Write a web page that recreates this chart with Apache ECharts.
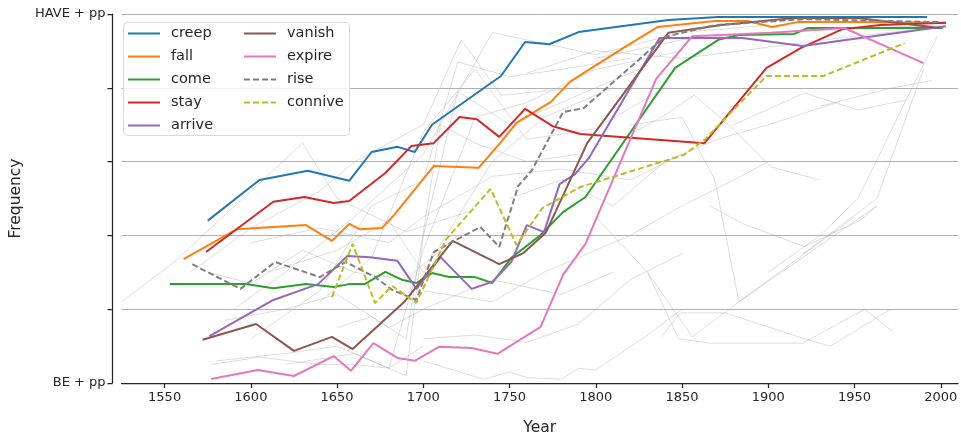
<!DOCTYPE html>
<html>
<head>
<meta charset="utf-8">
<script src="https://cdn.jsdelivr.net/npm/echarts@6/dist/echarts.min.js"></script>
<style>
html, body { margin: 0; padding: 0; background: #fff; }
#chart { width: 961px; height: 441px; }
</style>
</head>
<body>
<div id="chart"></div>
<script>
// year / share of HAVE + pp
var creep = [[1575,0.44],[1605,0.55],[1633,0.575],[1657,0.548],[1670,0.626],[1685,0.64],[1695,0.626],[1705,0.70],[1745,0.832],[1759,0.924],[1773,0.918],[1790,0.951],[1842,0.984],[1871,0.992],[1992,0.992]];
var fall = [[1561,0.336],[1592,0.417],[1632,0.428],[1647,0.385],[1657,0.431],[1663,0.417],[1676,0.42],[1683,0.455],[1706,0.588],[1732,0.583],[1745,0.653],[1754,0.705],[1774,0.762],[1785,0.816],[1794,0.843],[1817,0.911],[1836,0.965],[1869,0.981],[1888,0.981],[1902,0.965],[1917,0.978],[1946,0.978],[2003,0.976]];
var come = [[1553,0.268],[1597,0.268],[1613,0.257],[1632,0.268],[1648,0.26],[1657,0.268],[1666,0.268],[1678,0.301],[1688,0.279],[1696,0.271],[1705,0.298],[1715,0.287],[1730,0.287],[1740,0.271],[1751,0.339],[1768,0.401],[1781,0.463],[1794,0.504],[1846,0.854],[1871,0.93],[1883,0.943],[1915,0.946],[1923,0.962],[2001,0.962]];
var stay = [[1574,0.355],[1613,0.491],[1631,0.504],[1648,0.488],[1657,0.493],[1678,0.569],[1693,0.642],[1706,0.65],[1721,0.721],[1731,0.715],[1744,0.667],[1759,0.743],[1775,0.696],[1791,0.675],[1863,0.65],[1899,0.854],[1919,0.908],[1943,0.959],[1965,0.97],[2003,0.976]];
var arrive = [[1576,0.127],[1613,0.225],[1639,0.268],[1656,0.344],[1669,0.341],[1685,0.331],[1696,0.255],[1710,0.341],[1728,0.255],[1740,0.274],[1751,0.328],[1760,0.428],[1770,0.409],[1779,0.539],[1788,0.566],[1796,0.61],[1837,0.935],[1885,0.935],[1920,0.913],[1946,0.93],[2003,0.967]];
var vanish = [[1572,0.117],[1603,0.16],[1625,0.087],[1647,0.125],[1659,0.092],[1689,0.22],[1717,0.385],[1744,0.322],[1758,0.352],[1771,0.407],[1795,0.65],[1842,0.949],[1873,0.97],[1915,0.989],[1952,0.989],[1999,0.962]];
var expire = [[1577,0.011],[1604,0.035],[1625,0.019],[1648,0.073],[1658,0.033],[1671,0.108],[1685,0.068],[1695,0.06],[1709,0.098],[1728,0.095],[1743,0.079],[1768,0.152],[1781,0.293],[1794,0.377],[1835,0.824],[1856,0.94],[1902,0.949],[1944,0.962],[1990,0.867]];
var rise = [[1566,0.322],[1594,0.255],[1614,0.328],[1640,0.287],[1655,0.328],[1672,0.287],[1682,0.252],[1696,0.225],[1706,0.355],[1733,0.423],[1744,0.369],[1755,0.534],[1763,0.577],[1781,0.734],[1793,0.745],[1840,0.938],[1869,0.97],[1921,0.986],[1999,0.978]];
var connive = [[1647,0.233],[1659,0.377],[1672,0.217],[1682,0.263],[1696,0.217],[1713,0.388],[1739,0.526],[1754,0.374],[1769,0.474],[1791,0.531],[1851,0.618],[1863,0.659],[1899,0.832],[1932,0.832],[1979,0.921]];

// the other verbs, drawn faint in the background (rough readings)
var others = [
  [[1525,0.22],[1556,0.33],[1630,0.65],[1650,0.50],[1690,0.41],[1730,0.47]],
  [[1565,0.30],[1600,0.42],[1640,0.52],[1660,0.60],[1700,0.70],[1722,0.93],[1745,0.78],[1790,0.80]],
  [[1590,0.20],[1620,0.30],[1660,0.45],[1700,0.62],[1740,0.95],[1770,0.92],[1800,0.89],[1850,0.95],[1900,0.97]],
  [[1580,0.06],[1620,0.08],[1650,0.10],[1680,0.04],[1700,0.36],[1730,0.72],[1760,0.76],[1800,0.85],[1850,0.90]],
  [[1600,0.12],[1640,0.25],[1670,0.48],[1700,0.55],[1720,0.87],[1750,0.83],[1780,0.85],[1820,0.88]],
  [[1610,0.30],[1650,0.36],[1680,0.44],[1700,0.30],[1740,0.60],[1770,0.72],[1810,0.80]],
  [[1620,0.05],[1660,0.08],[1690,0.02],[1700,0.40],[1720,0.79],[1750,0.70],[1790,0.78],[1830,0.86]],
  [[1640,0.22],[1670,0.34],[1700,0.68],[1730,0.85],[1760,0.66],[1800,0.69],[1840,0.80]],
  [[1700,0.06],[1735,0.01],[1750,0.03],[1760,0.015],[1780,0.01],[1790,0.04],[1800,0.035],[1830,0.13],[1850,0.20]],
  [[1700,0.12],[1730,0.13],[1760,0.11],[1790,0.16],[1820,0.28],[1850,0.35]],
  [[1838,0.125],[1849,0.19],[1875,0.19],[1921,0.12],[1936,0.10],[1971,0.20]],
  [[1830,0.30],[1848,0.12],[1866,0.108],[1920,0.108],[1956,0.20],[1972,0.14]],
  [[1820,0.70],[1850,0.72],[1869,0.55],[1883,0.22],[1963,0.48]],
  [[1800,0.45],[1830,0.30],[1856,0.125],[1880,0.21],[1950,0.45]],
  [[1866,0.48],[1886,0.43],[1921,0.37],[1953,0.44],[1963,0.48]],
  [[1810,0.65],[1838,0.72],[1857,0.78],[1877,0.70],[1902,0.585],[1930,0.55]],
  [[1880,0.70],[1921,0.786],[1952,0.74],[1980,0.767]],
  [[1900,0.30],[1930,0.40],[1952,0.50],[1998,0.94]],
  [[1920,0.35],[1963,0.50],[1990,0.85]],
  [[1930,0.75],[1972,0.80],[1995,0.82]],
  [[1800,0.88],[1850,0.93],[1900,0.95],[1950,0.96],[2000,0.97]],
  [[1760,0.84],[1800,0.90],[1850,0.88],[1900,0.91],[1950,0.94],[1990,0.96]],
  [[1577,0.05],[1605,0.07],[1640,0.05],[1660,0.05],[1680,0.04],[1700,0.10]],
  [[1575,0.30],[1600,0.27],[1630,0.36],[1660,0.30],[1690,0.28],[1720,0.40]],
  [[1585,0.17],[1620,0.20],[1650,0.24],[1680,0.15],[1700,0.20],[1740,0.28],[1780,0.24],[1810,0.30]],
  [[1600,0.38],[1640,0.42],[1680,0.38],[1700,0.45],[1740,0.56],[1780,0.58],[1820,0.55],[1850,0.62]],
  [[1650,0.15],[1670,0.18],[1690,0.12],[1710,0.70],[1730,0.65],[1760,0.60],[1790,0.62]],
  [[1700,0.25],[1740,0.22],[1770,0.30],[1800,0.36],[1820,0.40],[1850,0.48],[1880,0.55],[1900,0.60]],
  [[1750,0.50],[1780,0.55],[1810,0.48],[1840,0.60],[1870,0.66],[1900,0.70],[1940,0.76]]
];

var verbs = ['creep', 'fall', 'come', 'stay', 'arrive', 'vanish', 'expire', 'rise', 'connive'];
var verbData = [creep, fall, come, stay, arrive, vanish, expire, rise, connive];
var yearTicks = [1550, 1600, 1650, 1700, 1750, 1800, 1850, 1900, 1950, 2000];

var colors = ['#1f77b4', '#ff7f0e', '#2ca02c', '#d62728', '#9467bd', '#8c564b', '#e377c2', '#7f7f7f', '#bcbd22'];
var font = 'DejaVu Sans';
var ink = '#262626';

var series = [];
others.forEach(function(d, i) {
  series.push({
    name: 'other' + i,
    type: 'line',
    data: d,
    symbol: 'none',
    silent: true,
    lineStyle: { color: 'rgba(170,170,170,0.5)', width: 0.8 },
    z: 1
  });
});
verbs.forEach(function(v, i) {
  series.push({
    name: v,
    type: 'line',
    data: verbData[i],
    symbol: 'none',
    color: colors[i],
    lineStyle: {
      color: colors[i],
      width: 2,
      type: (v == 'rise' || v == 'connive') ? [6, 3] : 'solid'
    },
    z: 2
  });
});

var legendBase = {
  orient: 'vertical',
  top: 26,
  padding: 0,
  itemWidth: 32,
  itemHeight: 14,
  itemGap: 8,
  z: 5,
  itemStyle: { opacity: 0 },
  lineStyle: { width: 2 },
  textStyle: { fontFamily: font, fontSize: 14.5, color: ink, lineHeight: 14, padding: [0, 0, 0, 6] }
};

var myChart = echarts.init(document.getElementById('chart'));
var option = {
  animation: false,
  grid: { left: 114, right: 3, top: 14, bottom: 58 },
  xAxis: {
    type: 'value',
    min: 1525,
    max: 2010,
    name: 'Year',
    nameLocation: 'middle',
    nameGap: 37,
    nameTextStyle: { fontFamily: font, fontSize: 15.5, color: ink },
    axisLine: { show: true, lineStyle: { color: ink, width: 1.25 } },
    axisTick: { show: true, length: 5, customValues: yearTicks, lineStyle: { color: ink, width: 1.25 } },
    axisLabel: {
      customValues: yearTicks, fontFamily: font, fontSize: 13, color: ink, margin: 8,
      formatter: function(val) { return String(val); }
    },
    splitLine: { show: false }
  },
  yAxis: {
    type: 'value',
    min: 0,
    max: 1,
    interval: 0.2,
    offset: 9,
    name: 'Frequency',
    nameLocation: 'middle',
    nameGap: 72,
    nameTextStyle: { fontFamily: font, fontSize: 15.5, color: ink },
    axisLine: { show: true, lineStyle: { color: ink, width: 1.25 } },
    axisTick: { show: true, length: 5, lineStyle: { color: ink, width: 1.25 } },
    axisLabel: {
      fontFamily: font, fontSize: 13, color: ink, margin: 7,
      formatter: function(val) {
        if (val == 0) return 'BE + pp';
        if (val == 1) return 'HAVE + pp';
        return '';
      }
    },
    splitLine: { show: true, lineStyle: { color: '#b0b0b0', width: 1 } }
  },
  legend: [
    Object.assign({ data: verbs.slice(0, 5), left: 127 }, legendBase),
    Object.assign({ data: verbs.slice(5), left: 243 }, legendBase)
  ],
  graphic: [{
    type: 'rect',
    left: 123,
    top: 22,
    z: 3,
    shape: { width: 226, height: 113, r: 4 },
    style: { fill: 'rgba(255,255,255,0.8)', stroke: '#d9d9d9', lineWidth: 1 }
  }],
  series: series
};
myChart.setOption(option);
</script>
</body>
</html>
